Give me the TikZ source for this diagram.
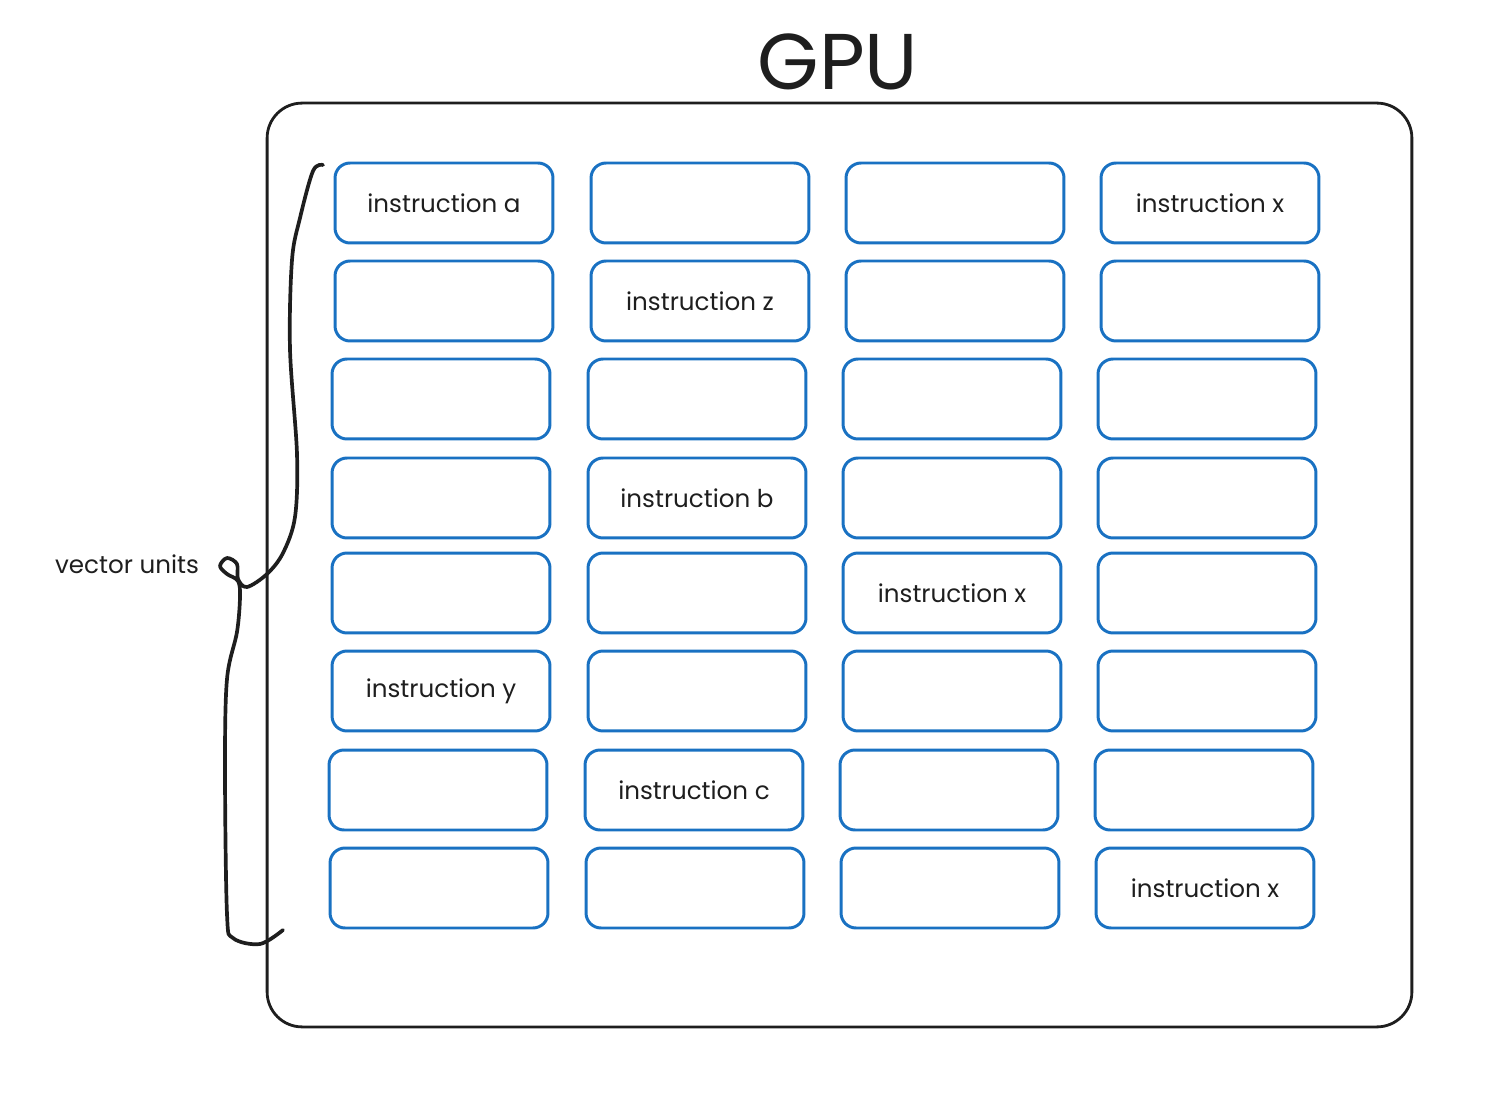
\documentclass[tikz,border=0pt]{standalone}
\usepackage{fontspec}
\setmainfont{Poppins}
\definecolor{exblue}{HTML}{1971C2}
\definecolor{exink}{HTML}{1E1E1E}
\begin{document}
\begin{tikzpicture}[x=0.02cm,y=-0.02cm,
  ubox/.style={draw=exblue, line width=1.7pt, rounded corners=0.3cm,
    minimum width=4.36cm, minimum height=1.6cm, inner sep=0pt,
    font=\fontsize{14}{16}\selectfont, text=exink},
  gpuframe/.style={draw=exink, line width=1.6pt, rounded corners=0.7cm,
    minimum width=22.9cm, minimum height=18.48cm, inner sep=0pt},
  lbl/.style={font=\fontsize{14}{16}\selectfont, text=exink, inner sep=0pt},
  ttl/.style={font=\fontsize{45}{50}\selectfont, text=exink, inner sep=0pt}]
\useasboundingbox (0,0) rectangle (1509,1118);
\node[gpuframe] (gpu) at (839.5,565) {};
\node[ttl] (title) at (838,62) {GPU};
% rows: center y and x shift
\foreach \r/\yy/\dx in {1/203/3,2/301/3,3/399/0,4/498/0,5/593/0,6/691/0,7/790/-3,8/888/-2}{
  \foreach \c/\xx in {1/441,2/697,3/952,4/1207}{
    \node[ubox] (b\r\c) at (\xx+\dx,\yy) {};
  }
}
\node[lbl] at (b11) {instruction a};
\node[lbl] at (b14) {instruction x};
\node[lbl] at (b22) {instruction z};
\node[lbl] at (b42) {instruction b};
\node[lbl] at (b53) {instruction x};
\node[lbl] at (b61) {instruction y};
\node[lbl] at (b72) {instruction c};
\node[lbl] at (b84) {instruction x};
\node[lbl] (vu) at (127,564) {vector units};
\draw[exink, line width=2.1pt, line cap=round, line join=round]
  plot[smooth, tension=0.55] coordinates {
  (323,165) (313,171) (300,218) (292,260) (290,349) (297,454) (295,517)
  (283,553) (267,574) (247,587) (238,579) (237,564) (227,558) (220,566)
  (227,574) (238,581) (240,597) (237,632) (227,679) (225,768) (227,914)
  (233,938) (260,944) (283,930)};
\end{tikzpicture}
\end{document}
